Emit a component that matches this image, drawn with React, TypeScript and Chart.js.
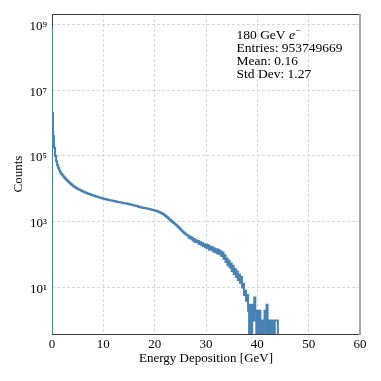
import React, { useEffect, useRef } from "react";
import { Chart, registerables } from "chart.js";

Chart.register(...registerables);

// Histogram: bin width 0.2 GeV starting at 0 GeV; counts
const BIN_WIDTH = 0.2;
const counts: number[] = [
  800000000, 2000000, 398000, 178000, 100000, 69200, 52500, 42700, 36300, 31600,
  28500, 25700, 23400, 21600, 19950, 18500, 17260, 16100, 15070, 14130,
  13270, 12530, 11885, 11300, 10770, 10300, 9886, 9506, 9162, 8851,
  8570, 8318, 8054, 7798, 7568, 7345, 7129, 6934, 6745, 6577,
  6412, 6266, 6124, 5984, 5848, 5715, 5585, 5458, 5346, 5236,
  5129, 5035, 4943, 4853, 4764, 4688, 4613, 4539, 4467, 4395,
  4325, 4256, 4188, 4121, 4064, 4009, 3954, 3899, 3846, 3793,
  3733, 3681, 3631, 3573, 3524, 3467, 3404, 3342, 3281, 3221,
  3162, 3105, 3048, 2992, 2938, 2884, 2831, 2780, 2729, 2685,
  2642, 2600, 2559, 2518, 2477, 2438, 2399, 2360, 2323, 2286,
  2244, 2198, 2148, 2094, 2037, 1977, 1914, 1849, 1778, 1702,
  1622, 1538, 1452, 1365, 1279, 1197, 1125, 1057, 993, 933,
  879, 828, 782, 728, 678, 631, 587, 547, 511, 476,
  446, 418, 393, 387, 327, 356, 303, 332, 270, 298,
  244, 275, 237, 262, 210, 238, 200, 228, 183, 208,
  167, 203, 160, 194, 142, 173, 142, 169, 124, 154,
  118, 147, 108, 141, 103, 128, 92, 117, 75, 96,
  60, 77, 48, 65, 41, 54, 32, 46, 26, 37,
  21, 31, 17, 25, 14, 21, 10, 13, 6, 8,
  4, 6, 2, 0, 3, 0, 3, 1, 5, 2,
  0, 2, 0, 2, 0, 1, 0, 1, 2, 0,
  3, 0, 1, 0, 1, 0, 1, 0, 1, 1,
];

const xTickMin = 0;
const xTickMax = 60;
const xTickStep = 10;
const yMin = 0.39;
const yMax = 2.05e9;
// empty bins are drawn at this value, below the visible axis range (like log(0) in the original)
const EMPTY_BIN_VALUE = 0.01;
const yTickValues = [1e1, 1e3, 1e5, 1e7, 1e9];
const yTickLabels = ["10\u00B9", "10\u00B3", "10\u2075", "10\u2077", "10\u2079"];

const statsTitle = ["180 GeV ", "e", "\u2212"];
const statsLines = ["Entries: 953749669", "Mean: 0.16", "Std Dev: 1.27"];

const xTitle = "Energy Deposition [GeV]";
const yTitle = "Counts";

const SERIF = '"Liberation Serif", "Times New Roman", serif';
const LINE_COLOR = "#4682b4";

export default function App() {
  const ref = useRef<HTMLCanvasElement | null>(null);

  useEffect(() => {
    const canvas = ref.current;
    if (!canvas) return;

    const toY = (c: number) => (c > 0 ? c : EMPTY_BIN_VALUE);
    const points: { x: number; y: number }[] = [{ x: 0, y: EMPTY_BIN_VALUE }];
    counts.forEach((c, i) => points.push({ x: i * BIN_WIDTH, y: toY(c) }));
    const endX = counts.length * BIN_WIDTH;
    points.push({ x: endX, y: toY(counts[counts.length - 1]) });
    points.push({ x: endX, y: EMPTY_BIN_VALUE });

    const framePlugin = {
      id: "frame",
      beforeDatasetsDraw(chart: any) {
        const { ctx, chartArea } = chart;
        const { left, right, top, bottom } = chartArea;
        ctx.save();
        ctx.fillStyle = "#3c3c3c";
        ctx.fillRect(left, top, right - left, 1);
        ctx.fillRect(left, bottom, right - left, 1);
        ctx.fillRect(left, top, 1, bottom - top + 1);
        ctx.fillStyle = "#a6a6a6";
        ctx.fillRect(right - 1, top, 2, bottom - top + 1);
        ctx.restore();
      },
    };

    const statsPlugin = {
      id: "stats",
      afterDatasetsDraw(chart: any) {
        const { ctx } = chart;
        ctx.save();
        ctx.fillStyle = "#000";
        ctx.textBaseline = "alphabetic";
        ctx.textAlign = "left";
        const x0 = 236.5;
        const y0 = 38.8;
        const dy = 13.1;
        ctx.font = `13.5px ${SERIF}`;
        ctx.fillText(statsTitle[0], x0, y0);
        let w = ctx.measureText(statsTitle[0]).width;
        ctx.font = `italic 13.5px ${SERIF}`;
        ctx.fillText(statsTitle[1], x0 + w, y0);
        w += ctx.measureText(statsTitle[1]).width;
        ctx.font = `9.5px ${SERIF}`;
        ctx.fillText(statsTitle[2], x0 + w + 0.5, y0 - 5);
        ctx.font = `13.5px ${SERIF}`;
        statsLines.forEach((t, i) => ctx.fillText(t, x0, y0 + dy * (i + 1)));
        ctx.restore();
      },
    };

    const chart = new Chart(canvas, {
      type: "line",
      data: {
        datasets: [
          {
            data: points,
            borderColor: LINE_COLOR,
            borderWidth: 2,
            pointRadius: 0,
            stepped: "after",
            tension: 0,
            fill: false,
          },
        ],
      },
      options: {
        responsive: false,
        animation: false,
        devicePixelRatio: 1,
        layout: { padding: { top: 14, right: 21, left: 0, bottom: 0 } },
        plugins: {
          legend: { display: false },
          tooltip: { enabled: false },
        },
        scales: {
          x: {
            type: "linear",
            min: xTickMin,
            max: xTickMax,
            ticks: {
              stepSize: xTickStep,
              color: "#000",
              font: { family: SERIF, size: 13 },
              padding: 3,
              maxRotation: 0,
            },
            grid: {
              color: "#d9d9d9",
              drawTicks: false,
              lineWidth: 1,
            },
            border: { display: false, dash: [3, 2] },
            title: {
              display: true,
              text: xTitle,
              color: "#000",
              font: { family: SERIF, size: 13 },
              padding: { top: 0, bottom: 15 },
            },
            afterFit(scale: any) {
              scale.height = 47;
            },
          },
          y: {
            type: "logarithmic",
            min: yMin,
            max: yMax,
            afterBuildTicks(scale: any) {
              scale.ticks = yTickValues.map((v) => ({ value: v }));
            },
            ticks: {
              color: "#000",
              font: { family: SERIF, size: 13 },
              padding: 5,
              labelOffset: 2,
              callback(value: any) {
                const idx = yTickValues.indexOf(Number(value));
                return idx >= 0 ? yTickLabels[idx] : "";
              },
            },
            grid: {
              color: "#d9d9d9",
              drawTicks: false,
              lineWidth: 1,
            },
            border: { display: false, dash: [3, 2] },
            title: {
              display: true,
              text: yTitle,
              color: "#000",
              font: { family: SERIF, size: 13 },
              padding: { top: 11, bottom: 0 },
            },
            afterFit(scale: any) {
              scale.width = 52;
            },
          },
        },
      },
      plugins: [framePlugin, statsPlugin],
    } as any);

    return () => chart.destroy();
  }, []);

  return (
    <div style={{ position: "fixed", left: 0, top: 0, width: 381, height: 381, background: "#fff" }}>
      <canvas ref={ref} width={381} height={381} style={{ width: 381, height: 381, display: "block" }} />
    </div>
  );
}
